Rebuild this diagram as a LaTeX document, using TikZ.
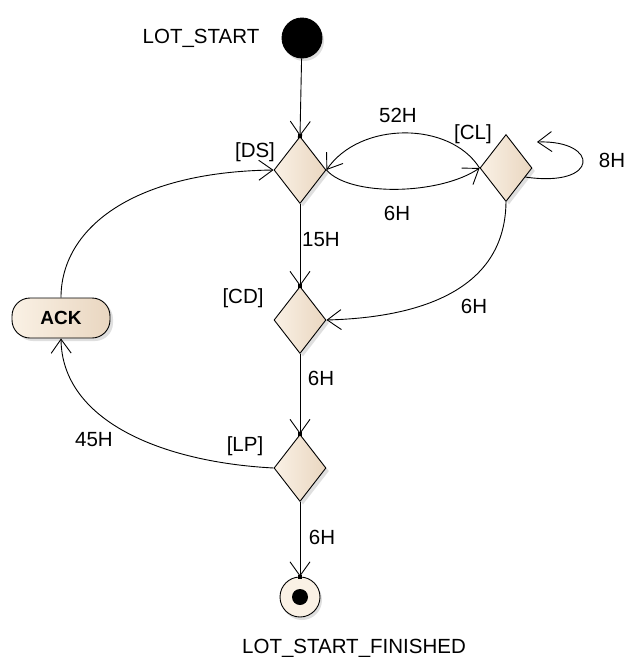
\documentclass[tikz,border=0pt]{standalone}
\usepackage{fontspec}
\setmainfont{Liberation Sans}
\usetikzlibrary{shapes.geometric,shadows,arrows.meta,decorations.markings}
\definecolor{creamL}{HTML}{FAF1E5}
\definecolor{creamR}{HTML}{E9D6C0}

\begin{document}
\begin{tikzpicture}[x=1pt,y=-1pt,line width=0.9pt,font=\fontsize{20.5}{24}\selectfont,
  decision/.style={draw, diamond, inner sep=0, minimum width=52, minimum height=67, left color=creamL, right color=creamR, drop shadow={shadow xshift=3pt,shadow yshift=-3pt,fill=gray!50}},
  initial/.style={draw, circle, fill=black, minimum size=40, inner sep=0, drop shadow={shadow xshift=2pt,shadow yshift=-3pt,fill=gray!50}},
  final/.style={draw, circle, fill=creamL, minimum size=40, inner sep=0, drop shadow={shadow xshift=2pt,shadow yshift=-3pt,fill=gray!50}},
  actionbox/.style={draw, rounded corners=18, minimum width=98, minimum height=40, inner sep=0, left color=creamL, right color=creamR, font=\fontsize{19}{22}\selectfont\bfseries, drop shadow={shadow xshift=3pt,shadow yshift=-3pt,fill=gray!50}},
  flow/.style={-{Straight Barb[length=14pt,width=20pt,line width=0.9pt]},
    postaction={decorate,decoration={markings,mark=at position 1 with {\fill (-2pt,-2pt) rectangle (2pt,2pt);}}}},
  lbl/.style={inner sep=0}]
\useasboundingbox (0,0) rectangle (627,657);

% states
\node[initial] (start) at (302,38) {};
\node[lbl] (startlbl) at (201,38) {LOT\_START};
\node[decision] (ds) at (300,170) {};
\node[lbl] (dslbl) at (255,152) {[DS]};
\node[decision] (cl) at (506,168) {};
\node[lbl] (cllbl) at (473,134) {[CL]};
\node[decision] (cd) at (300,320) {};
\node[lbl] (cdlbl) at (243,298) {[CD]};
\node[decision] (lp) at (300,468) {};
\node[lbl] (lplbl) at (245,446) {[LP]};
\node[actionbox] (ack) at (61,318) {ACK};
\node[final] (fin) at (300,597) {};
\fill (fin) circle (8);
\node[lbl] (finlbl) at (354,648) {LOT\_START\_FINISHED};
\coordinate (loopend) at (537,142);

% transitions
\draw[flow] (start) -- (ds.north);
\draw[flow] (ds.east) .. controls (350,197) and (440,195) .. (cl.west);
\draw[flow] (cl.west) .. controls (450,121) and (360,121) .. (ds.east);
\draw[flow] (cl.-25) .. controls (600,188) and (600,140) .. (loopend);
\draw[flow] (ds.south) -- (cd.north);
\draw[flow] (cl.south) .. controls (505,300) and (400,318) .. (cd.east);
\draw[flow] (cd.south) -- (lp.north);
\draw[flow] (lp.south) -- (fin.north);
\draw[flow] (lp.west) .. controls (160,462) and (62,420) .. (ack.south);
\draw[flow] (ack.north) .. controls (61,230) and (130,172) .. (ds.west);

% times
\node[lbl] at (398,115) {52H};
\node[lbl] at (397,213) {6H};
\node[lbl] at (612,160) {8H};
\node[lbl] at (321,240) {15H};
\node[lbl] at (474,306) {6H};
\node[lbl] at (321,378) {6H};
\node[lbl] at (94,440) {45H};
\node[lbl] at (322,537) {6H};
\end{tikzpicture}
\end{document}
